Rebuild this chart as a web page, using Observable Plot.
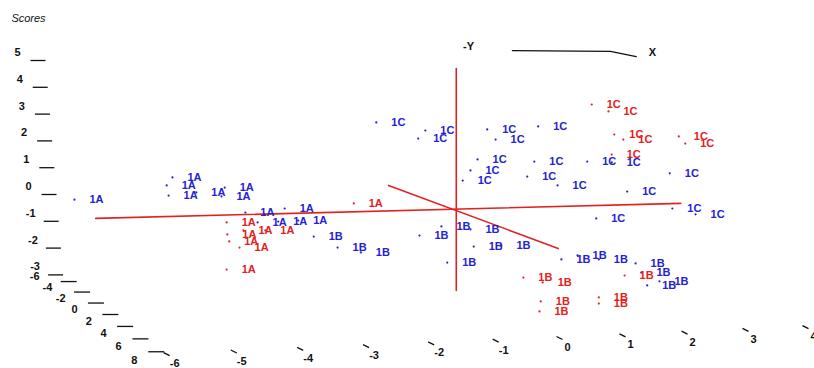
<!DOCTYPE html>
<html>
<head>
<meta charset="utf-8">
<script src="https://cdn.jsdelivr.net/npm/d3@7"></script>
<script src="https://cdn.jsdelivr.net/npm/@observablehq/plot@0.6"></script>
<style>
  html, body { margin: 0; padding: 0; background: #fff; }
  #chart svg { display: block; }
</style>
</head>
<body>
<div id="chart"></div>
<script>
// ---- Data: projected score coordinates (horizontal X score, vertical score) ----
const blue1A = [[-7.66,-0.49],[-6.14,0.34],[-6.23,0.04],[-6.20,-0.34],[-5.77,-0.22],[-5.33,-0.04],[-5.38,-0.37],[-5.01,-0.97],[-4.82,-1.34],[-4.40,-0.82],[-4.50,-1.31],[-4.19,-1.27]];
const red1A = [[-5.30,-1.34],[-5.29,-1.79],[-5.04,-1.64],[-4.70,-1.64],[-5.26,-2.05],[-5.10,-2.28],[-5.30,-3.10],[-3.33,-0.63]];
const blue1B = [[-3.95,-1.87],[-3.58,-2.28],[-3.22,-2.46],[-2.31,-1.83],[-1.97,-1.49],[-1.52,-1.60],[-1.47,-2.24],[-1.04,-2.20],[-1.88,-2.84],[-0.11,-2.72],[0.14,-2.57],[0.47,-2.72],[1.04,-2.87],[1.13,-3.21],[1.22,-3.69],[1.41,-3.54]];
const red1B = [[-0.70,-3.40],[-0.40,-3.58],[-0.43,-4.29],[-0.45,-4.66],[0.47,-4.14],[0.47,-4.37],[0.87,-3.32]];
const blue1C = [[-2.98,2.39],[-2.22,2.09],[-2.33,1.79],[-1.26,2.13],[-1.13,1.75],[-0.47,2.24],[-1.41,1.01],[-1.52,0.60],[-1.64,0.22],[-0.53,0.93],[-0.64,0.37],[-0.17,0.04],[0.29,0.93],[0.67,0.90],[0.91,-0.19],[1.57,0.49],[1.61,-0.82],[1.97,-1.04],[0.43,-1.19]];
const red1C = [[0.36,3.06],[0.62,2.80],[0.71,1.94],[0.85,1.75],[1.71,1.87],[1.81,1.60],[0.67,1.19]];

// 3D reference axes drawn in red (projected end points)
const axisH = [[-7.33,-1.19],[1.74,-0.63]];
const axisV = [[-1.74,4.40],[-1.74,-3.88]];
const axisD = [[-2.79,0.04],[-0.16,-2.31]];

// orientation legend
const legendLine = [[-0.87,5.07],[0.65,5.04],[1.05,4.85]];
const legendLabels = [{t:"-Y", x:-1.55, y:5.22}, {t:"X", x:1.30, y:5.00}];

// tick values of the box axes
const scoreTicks = [5,4,3,2,1,0,-1,-2,-3];
const depthTicks = [-6,-4,-2,0,2,4,6,8];
const xTicks = [-6,-5,-4,-3,-2,-1,0,1,2,3,4];
const title = "Scores";

// ---- projection of the frame (pixel-space helpers -> score units) ----
const W = 814, H = 368;
const X0 = 568, Y0 = 186, KX = 64.5, KY = 26.8;
const ux = px => (px - X0) / KX;
const uy = py => (Y0 - py) / KY;

const BLUE = "#2323cf", RED = "#e22222";
const FONT = "Liberation Sans, Arial, Helvetica, sans-serif";

const pts = [
  ...blue1A.map(([x,y]) => ({x, y, label:"1A", c:BLUE})),
  ...red1A.map(([x,y]) => ({x, y, label:"1A", c:RED})),
  ...blue1B.map(([x,y]) => ({x, y, label:"1B", c:BLUE})),
  ...red1B.map(([x,y]) => ({x, y, label:"1B", c:RED})),
  ...blue1C.map(([x,y]) => ({x, y, label:"1C", c:BLUE})),
  ...red1C.map(([x,y]) => ({x, y, label:"1C", c:RED}))
];

// scores (vertical) axis
const scoreLab = scoreTicks.map(v => {
  const px = 17 + 2.2 * (5 - v), py = Y0 - KY * v;
  return {t: String(v), x: ux(px), y: v, x1: ux(px + 13), x2: ux(px + 28), yd: uy(py + 8)};
});
// depth axis (perspective)
const depthLab = depthTicks.map(d => {
  const px = 74 + 7.0 * d + 0.06 * d * d, py = 309 + 5.85 * d + 0.06 * d * d;
  const s = 26 + 0.3 * (d + 6);
  return {t: String(d), d, x: ux(px), y: uy(py), x1: ux(px + s), x2: ux(px + s + 16), yd: uy(py + 5)};
});
// bottom X axis (perspective)
const xLab = xTicks.map(t => {
  const px = 567 + 63.5 * t - (t < 0 ? 0.33 : 0.5) * t * t, py = 347 - 2.7 * t;
  return {t: String(t), x: ux(px), y: uy(py), x1: ux(px - 11), y1: uy(py - 11), x2: ux(px - 5), y2: uy(py - 8)};
});

const toXY = a => a.map(([x,y]) => ({x, y}));

const chart = Plot.plot({
  width: W, height: H, margin: 0,
  style: {background: "#fff", fontFamily: FONT},
  x: {domain: [ux(0), ux(W)], axis: null},
  y: {domain: [uy(H), uy(0)], axis: null},
  color: {type: "identity"},
  marks: [
    // red reference axes
    Plot.line(toXY(axisH), {x: "x", y: "y", stroke: RED, strokeWidth: 1.6}),
    Plot.line(toXY(axisV), {x: "x", y: "y", stroke: RED, strokeWidth: 1.6}),
    Plot.line(toXY(axisD), {x: "x", y: "y", stroke: RED, strokeWidth: 1.6}),
    // legend
    Plot.line(toXY(legendLine), {x: "x", y: "y", stroke: "#111", strokeWidth: 1.3}),
    Plot.text(legendLabels, {x: "x", y: "y", text: "t", fontSize: 11, fontWeight: "bold", fill: "#111"}),
    // title
    Plot.text([title], {x: ux(28), y: uy(18), text: d => d, fontSize: 11, fontStyle: "italic", fill: "#111"}),
    // scores axis
    Plot.link(scoreLab, {x1: "x1", x2: "x2", y1: "yd", y2: "yd", stroke: "#111", strokeWidth: 1.3}),
    Plot.text(scoreLab, {x: "x", y: "y", text: "t", fontSize: 11, fontWeight: "bold", fill: "#111"}),
    // depth axis
    Plot.link(depthLab.filter(d => d.d < 8), {x1: "x1", x2: "x2", y1: "yd", y2: "yd", stroke: "#111", strokeWidth: 1.3}),
    Plot.text(depthLab, {x: "x", y: "y", text: "t", fontSize: 11, fontWeight: "bold", fill: "#111"}),
    // x axis
    Plot.link(xLab, {x1: "x1", y1: "y1", x2: "x2", y2: "y2", stroke: "#111", strokeWidth: 1.3}),
    Plot.text(xLab, {x: "x", y: "y", text: "t", fontSize: 11, fontWeight: "bold", fill: "#111"}),
    // points and labels
    Plot.dot(pts, {x: "x", y: "y", r: 1.1, fill: "c", stroke: null}),
    Plot.text(pts, {x: "x", y: "y", text: "label", fill: "c", dx: 15, textAnchor: "start", fontSize: 11, fontWeight: "bold"})
  ]
});
document.getElementById("chart").appendChild(chart);
</script>
</body>
</html>
